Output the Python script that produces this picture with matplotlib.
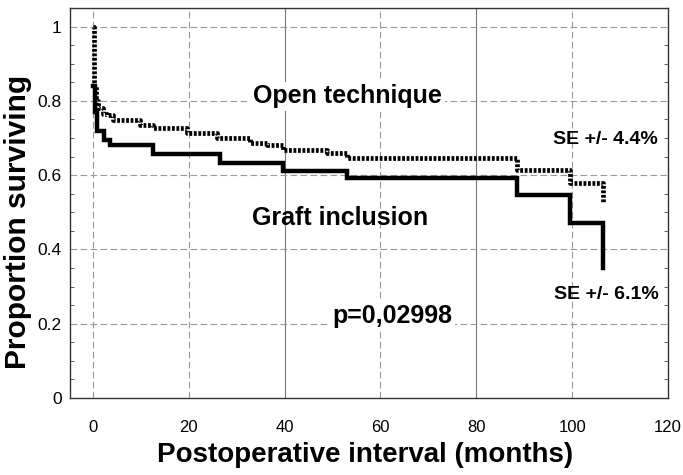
import matplotlib
matplotlib.use("Agg")
import matplotlib.pyplot as plt
from matplotlib.ticker import MultipleLocator

plt.rcParams['font.family'] = ['Liberation Sans', 'DejaVu Sans']

# Kaplan-Meier estimates
open_t = [0, 0.3, 0.6, 1, 2.1, 2.9, 4.2, 9.8, 12.5, 19.6, 25.9, 32.8, 36.3, 39.7, 48.9, 53, 88.5, 99.6, 106.5]
open_s = [1.0, 0.84, 0.80, 0.78, 0.765, 0.762, 0.749, 0.736, 0.728, 0.714, 0.70, 0.688, 0.682,
          0.668, 0.66, 0.645, 0.615, 0.58, 0.525]

graft_t = [0, 0.4, 0.8, 2.3, 3.5, 12.5, 26.5, 39.7, 53, 88.5, 99.6, 106.5]
graft_s = [0.84, 0.77, 0.72, 0.695, 0.68, 0.658, 0.633, 0.61, 0.593, 0.547, 0.472, 0.35]

x_ticks = [0, 20, 40, 60, 80, 100, 120]
y_ticks = [0, 0.2, 0.4, 0.6, 0.8, 1]
y_labels = ['0', '0.2', '0.4', '0.6', '0.8', '1']

fig = plt.figure(figsize=(6.83, 4.75), dpi=100)
ax = fig.add_axes([0.1025, 0.162, 0.8755, 0.821])

# grid: light gray, solid at 40/80, dashed elsewhere
for xv in [0, 20, 60, 100]:
    ax.axvline(xv, color='#999999', lw=0.8, ls=(0, (6, 3)), zorder=0)
for xv in [40, 80]:
    ax.axvline(xv, color='#777777', lw=0.8, zorder=0)
for yv in [0.2, 0.4, 0.6, 0.8, 1.0]:
    ax.axhline(yv, color='#999999', lw=0.8, ls=(0, (6, 3)), zorder=0)

ax.plot(graft_t, graft_s, drawstyle='steps-post', color='black', lw=3.2,
        solid_joinstyle='miter', zorder=3)
ax.plot(open_t, open_s, drawstyle='steps-post', color='black', lw=3.4,
        ls=(0, (0.6, 0.35)), zorder=4)

ax.set_xlim(-4.8, 120)
ax.set_ylim(0, 1.05)
ax.set_xticks(x_ticks)
ax.set_yticks(y_ticks)
ax.set_yticklabels(y_labels)
ax.yaxis.set_minor_locator(MultipleLocator(0.05))
ax.tick_params(axis='both', which='both', direction='in', color='#444444')
ax.tick_params(axis='x', length=0, pad=16, labelsize=12)
ax.tick_params(axis='y', which='major', length=0, pad=6, labelsize=12.5)
ax.tick_params(axis='y', which='minor', length=3, right=True)
for sp in ax.spines.values():
    sp.set_color('#333333')
    sp.set_linewidth(1.0)

box = dict(facecolor='white', edgecolor='none', pad=2)
ax.text(53.1, 0.812, 'Open technique', fontsize=18, fontweight='bold', ha='center', va='center',
        bbox=box, zorder=5)
ax.text(51.6, 0.485, 'Graft inclusion', fontsize=18, fontweight='bold', ha='center', va='center',
        zorder=5)
ax.text(62.4, 0.222, 'p=0,02998', fontsize=18, fontweight='bold', ha='center', va='center',
        bbox=box, zorder=5)
ax.text(106.9, 0.695, 'SE +/- 4.4%', fontsize=14, fontweight='bold', ha='center', va='center',
        zorder=5)
ax.text(107.2, 0.278, 'SE +/- 6.1%', fontsize=14, fontweight='bold', ha='center', va='center',
        zorder=5)

ax.set_xlabel('Postoperative interval (months)', fontsize=20, fontweight='bold')
ax.xaxis.set_label_coords(0.493, -0.113)
ax.set_ylabel('Proportion surviving', fontsize=21.5, fontweight='bold')
ax.yaxis.set_label_coords(-0.064, 0.451)

fig.savefig('out.png', dpi=100)
